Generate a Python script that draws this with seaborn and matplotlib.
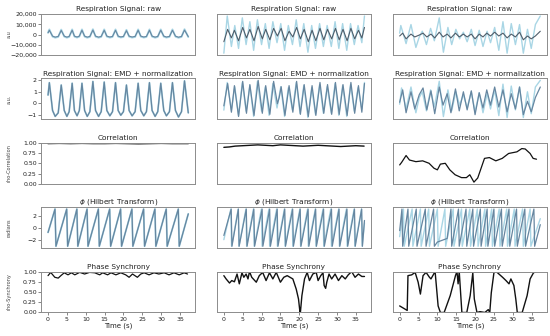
import matplotlib
matplotlib.use("Agg")
import matplotlib.pyplot as plt
from matplotlib.ticker import StrMethodFormatter
import seaborn as sns

# ── colours ───────────────────────────────────────────────────────────────────
LIGHT = "#a9d6e5"
DARK = "#6686a0"
RAW_DARK = "#4f5d6a"
BLACK = "#111111"

# ── column 1 ──────────────────────────────────────────────────────────────────
c1_raw_light = [(0, 2000), (0.35, 5000), (1.2, -2000), (1.9, -3000), (2.7, -2300),
                (3.5, 4800), (4.3, -2000), (5.0, -3000), (5.6, -2300), (6.4, 5000),
                (7.0, -2000), (7.7, -2900), (8.3, -2000), (9.0, 5000), (9.7, -2000),
                (10.4, -3000), (11.1, -2300), (11.9, 5200), (12.6, -2000), (13.4, -3000),
                (14.1, -2300), (14.9, 5000), (15.6, -2000), (16.4, -2900), (17.1, -2300),
                (17.9, 5000), (18.6, -2000), (19.3, -2800), (20.0, -2300), (20.8, 4600),
                (21.5, -2000), (22.3, -2900), (23.1, -2300), (23.9, 5000), (24.6, -2000),
                (25.4, -2900), (26.1, -2300), (26.9, 5000), (27.6, -2000), (28.4, -3000),
                (29.1, -2300), (29.9, 5000), (30.7, -2000), (31.4, -2900), (32.2, -2300),
                (33.0, 5000), (33.8, -2000), (34.6, -3100), (35.4, -2300), (36.2, 5200),
                (37.2, -2400)]
c1_raw_dark = [(0, 1600), (0.35, 4200), (1.2, -1500), (1.9, -2500), (2.7, -1800),
               (3.5, 4000), (4.3, -1500), (5.0, -2500), (5.6, -1800), (6.4, 4200),
               (7.0, -1500), (7.7, -2400), (8.3, -1500), (9.0, 4200), (9.7, -1500),
               (10.4, -2500), (11.1, -1800), (11.9, 4400), (12.6, -1500), (13.4, -2500),
               (14.1, -1800), (14.9, 4200), (15.6, -1500), (16.4, -2400), (17.1, -1800),
               (17.9, 4200), (18.6, -1500), (19.3, -2300), (20.0, -1800), (20.8, 3800),
               (21.5, -1500), (22.3, -2400), (23.1, -1800), (23.9, 4200), (24.6, -1500),
               (25.4, -2400), (26.1, -1800), (26.9, 4200), (27.6, -1500), (28.4, -2500),
               (29.1, -1800), (29.9, 4200), (30.7, -1500), (31.4, -2400), (32.2, -1800),
               (33.0, 4200), (33.8, -1500), (34.6, -2600), (35.4, -1800), (36.2, 4400),
               (37.2, -2000)]
c1_emd = [(0, 0.7), (0.35, 1.75), (1.2, -0.6), (1.9, -1.1), (2.7, -0.8), (3.5, 1.55),
          (4.3, -0.6), (5.0, -1.1), (5.6, -0.7), (6.4, 1.7), (7.0, -0.6), (7.7, -1.05),
          (8.3, -0.6), (9.0, 1.7), (9.7, -0.6), (10.4, -1.1), (11.1, -0.7), (11.9, 1.85),
          (12.6, -0.6), (13.4, -1.1), (14.1, -0.7), (14.9, 1.8), (15.6, -0.6), (16.4, -1.05),
          (17.1, -0.7), (17.9, 1.75), (18.6, -0.6), (19.3, -1.0), (20.0, -0.7), (20.8, 1.55),
          (21.5, -0.6), (22.3, -1.05), (23.1, -0.7), (23.9, 1.7), (24.6, -0.6), (25.4, -1.05),
          (26.1, -0.7), (26.9, 1.75), (27.6, -0.6), (28.4, -1.1), (29.1, -0.7), (29.9, 1.7),
          (30.7, -0.6), (31.4, -1.05), (32.2, -0.7), (33.0, 1.75), (33.8, -0.6), (34.6, -1.15),
          (35.4, -0.7), (36.2, 1.9), (37.2, -0.8)]
c1_corr = [(0, 0.99), (3, 0.995), (6, 0.99), (9, 0.995), (12, 0.99), (15, 0.99),
           (18, 0.995), (21, 0.99), (24, 0.985), (27, 0.99), (30, 0.995), (33, 0.99),
           (36, 0.99), (37.2, 0.99)]
c1_phase = [(0, -0.8), (1.85, 3.1), (2.1, -3.1), (4.95, 3.1), (5.2, -3.1), (7.65, 3.1),
            (7.9, -3.1), (10.35, 3.1), (10.6, -3.1), (13.35, 3.1), (13.6, -3.1), (16.35, 3.1),
            (16.6, -3.1), (19.25, 3.1), (19.5, -3.1), (22.25, 3.1), (22.5, -3.1), (25.35, 3.1),
            (25.6, -3.1), (28.35, 3.1), (28.6, -3.1), (31.35, 3.1), (31.6, -3.1), (34.55, 3.1),
            (34.8, -3.1), (37.2, 2.3)]
c1_sync = [(0, 0.9), (0.7, 0.98), (1.8, 0.86), (2.7, 0.84), (3.4, 0.9), (4.3, 0.97),
           (5.3, 0.92), (6.2, 0.97), (7.1, 0.92), (8.4, 0.98), (9.7, 0.94), (11, 0.98),
           (12.4, 0.97), (13.7, 0.92), (14.5, 0.97), (15.8, 0.92), (16.7, 0.97), (18, 0.92),
           (19.3, 0.97), (20.6, 0.92), (21.5, 0.86), (22.4, 0.94), (23.7, 0.86), (24.6, 0.94),
           (25.5, 0.97), (26.8, 0.92), (28.1, 0.97), (29.4, 0.94), (30.8, 0.97), (32.1, 0.92),
           (33.4, 0.97), (34.8, 0.92), (36.1, 0.97), (37.0, 0.94)]

# ── column 2 ──────────────────────────────────────────────────────────────────
c2_raw_light = [(0, -0.95), (0.9, 1.0), (2.0, -0.6), (2.9, 0.5), (3.9, -0.7), (4.9, 0.9),
                (5.9, -0.5), (6.9, 0.7), (7.9, -0.8), (8.9, 0.8), (10.0, -0.5), (11.0, 0.6),
                (12.0, -0.7), (13.0, 0.7), (14.1, -0.4), (15.1, 0.6), (16.1, -0.8), (17.1, 0.5),
                (18.2, -0.5), (19.2, 0.8), (20.2, -0.6), (21.2, 0.6), (22.3, -0.9), (23.3, 0.5),
                (24.3, -0.7), (25.4, 0.6), (26.4, -0.6), (27.4, 0.5), (28.5, -0.6), (29.5, 0.7),
                (30.5, -0.7), (31.5, 0.6), (32.6, -0.8), (33.6, 0.6), (34.6, -0.5), (35.6, 0.5),
                (36.6, -0.4), (37.3, 1.0)]
c2_raw_dark = [(0, -0.35), (1.0, 0.3), (2.0, -0.15), (2.8, 0.25), (3.9, -0.3), (5.0, 0.4),
               (6.0, -0.15), (6.9, 0.3), (8.0, -0.3), (9.1, 0.45), (10.2, -0.2), (11.1, 0.3),
               (12.2, -0.25), (13.2, 0.35), (14.2, -0.05), (15.2, 0.35), (16.2, -0.3), (17.3, 0.2),
               (18.3, -0.1), (19.3, 0.4), (20.3, -0.2), (21.3, 0.3), (22.4, -0.35), (23.4, 0.25),
               (24.4, -0.3), (25.5, 0.35), (26.5, -0.25), (27.5, 0.3), (28.6, -0.2), (29.6, 0.35),
               (30.6, -0.25), (31.6, 0.3), (32.7, -0.3), (33.7, 0.35), (34.7, -0.2), (35.7, 0.25),
               (36.6, -0.15), (37.3, 0.4)]
c2_emd_light = [(0, -1.0), (0.9, 1.6), (2.0, -1.0), (2.9, 1.2), (3.9, -1.5), (4.9, 1.6),
                (5.9, -1.1), (6.9, 1.3), (7.9, -1.6), (8.9, 1.7), (10.0, -1.1), (11.0, 1.2),
                (12.0, -1.5), (13.0, 1.5), (14.1, -0.8), (15.1, 1.2), (16.1, -1.6), (17.1, 1.1),
                (18.2, -1.0), (19.2, 1.6), (20.2, -1.3), (21.2, 1.3), (22.3, -1.7), (23.3, 1.1),
                (24.3, -1.4), (25.4, 1.4), (26.4, -1.3), (27.4, 1.2), (28.5, -1.3), (29.5, 1.5),
                (30.5, -1.5), (31.5, 1.3), (32.6, -1.6), (33.6, 1.4), (34.6, -1.1), (35.6, 1.1),
                (36.6, -0.9), (37.3, 1.6)]
c2_emd_dark = [(0, -0.6), (1.0, 1.5), (2.0, -1.2), (2.8, 1.3), (3.9, -1.6), (5.0, 1.7),
               (6.0, -1.3), (6.9, 1.4), (8.0, -1.5), (9.1, 1.8), (10.2, -1.3), (11.1, 1.3),
               (12.2, -1.4), (13.2, 1.7), (14.2, -0.4), (14.7, 0.2), (15.2, 1.2), (16.2, -1.5),
               (17.3, 1.3), (18.3, -1.2), (19.3, 1.7), (20.3, -1.4), (21.3, 1.4), (22.4, -1.6),
               (23.4, 1.3), (24.4, -1.5), (25.5, 1.6), (26.5, -1.3), (27.5, 1.4), (28.6, -1.4),
               (29.6, 1.6), (30.6, -1.4), (31.6, 1.4), (32.7, -1.5), (33.7, 1.6), (34.7, -1.3),
               (35.7, 1.3), (36.6, -1.2), (37.3, 1.5)]
c2_corr = [(0, 0.89), (1.5, 0.9), (3, 0.92), (5, 0.93), (7, 0.94), (9, 0.95), (11, 0.94),
           (13, 0.93), (15, 0.95), (17, 0.94), (19, 0.93), (21, 0.92), (23, 0.93), (25, 0.94),
           (27, 0.93), (29, 0.92), (31, 0.91), (33, 0.92), (35, 0.93), (37.2, 0.92)]
c2_phase_light = [(0, -2.0), (1.85, 3.1), (2.05, -3.1), (3.8, 3.1), (4.0, -3.1), (5.85, 3.1),
                  (6.05, -3.1), (7.85, 3.1), (8.05, -3.1), (9.95, 3.1), (10.15, -3.1),
                  (11.95, 3.1), (12.15, -3.1), (14.0, 3.1), (14.2, -3.1), (16.05, 3.1),
                  (16.25, -3.1), (18.1, 3.1), (18.3, -3.1), (20.15, 3.1), (20.35, -3.1),
                  (22.2, 3.1), (22.4, -3.1), (24.25, 3.1), (24.45, -3.1), (26.3, 3.1),
                  (26.5, -3.1), (28.35, 3.1), (28.55, -3.1), (30.45, 3.1), (30.65, -3.1),
                  (32.5, 3.1), (32.7, -3.1), (34.55, 3.1), (34.75, -3.1), (36.5, 3.1),
                  (36.7, -3.1), (37.3, 0.8)]
c2_phase_dark = [(0, -1.3), (1.95, 3.1), (2.15, -3.1), (3.85, 3.1), (4.05, -3.1), (5.95, 3.1),
                 (6.15, -3.1), (7.95, 3.1), (8.15, -3.1), (10.15, 3.1), (10.35, -3.1),
                 (12.15, 3.1), (12.35, -3.1), (14.15, 3.1), (14.35, -3.1), (16.15, 3.1),
                 (16.35, -3.1), (18.25, 3.1), (18.45, -3.1), (20.25, 3.1), (20.45, -3.1),
                 (22.35, 3.1), (22.55, -3.1), (24.35, 3.1), (24.55, -3.1), (26.45, 3.1),
                 (26.65, -3.1), (28.55, 3.1), (28.75, -3.1), (30.55, 3.1), (30.75, -3.1),
                 (32.65, 3.1), (32.85, -3.1), (34.65, 3.1), (34.85, -3.1), (36.55, 3.1),
                 (36.75, -3.1), (37.3, 1.2)]
c2_sync = [(0, 0.9), (0.6, 0.82), (1.5, 0.72), (2.1, 0.78), (2.8, 0.75), (3.5, 0.94),
           (4.1, 0.7), (4.8, 0.97), (5.3, 0.86), (5.9, 0.94), (6.4, 0.82), (6.8, 1.0),
           (7.4, 0.86), (8.6, 0.74), (9.4, 0.9), (10.3, 0.98), (11.2, 0.78), (12.1, 0.97),
           (13.0, 0.82), (13.9, 0.98), (15.0, 0.74), (15.9, 0.86), (16.8, 0.9), (18.3, 0.82),
           (19.2, 0.57), (19.8, 0.33), (20.2, 0.0), (20.3, 0.0), (20.7, 0.41), (21.4, 0.82),
           (22.1, 0.98), (22.7, 0.78), (23.6, 0.94), (24.5, 0.98), (25.0, 0.78), (25.7, 0.9),
           (26.3, 0.97), (26.6, 0.66), (27.0, 0.59), (27.3, 0.74), (27.9, 0.94), (28.6, 0.82),
           (29.5, 0.94), (30.4, 0.78), (31.3, 0.9), (32.2, 0.82), (33.0, 0.92), (33.9, 1.0),
           (34.8, 0.86), (35.7, 0.94), (36.6, 0.88), (37.3, 0.88)]

# ── column 3 ──────────────────────────────────────────────────────────────────
c3_raw_light = [(0, 0.1), (0.3, 0.5), (1.7, -0.45), (3.0, 0.55), (4.3, -0.65), (5.2, -0.1),
                (6.0, 0.2), (7.1, -0.5), (8.2, 0.35), (9.2, -0.3), (10.5, 0.9), (11.6, -0.9),
                (12.8, 0.4), (13.8, -0.5), (14.9, 0.3), (15.9, -0.2), (16.9, 0.15), (17.9, -0.35),
                (19.0, 0.3), (20.0, -0.55), (21.1, 0.25), (22.1, -0.6), (23.2, 0.2), (24.1, -0.4),
                (25.2, 0.4), (26.3, -0.8), (27.4, 0.7), (28.5, -0.95), (29.6, 0.6), (30.7, -0.5),
                (31.8, 0.55), (32.8, -0.95), (33.9, 0.3), (34.9, -0.7), (36.0, 0.55), (37.3, 1.0)]
c3_raw_dark = [(0, -0.05), (0.8, 0.1), (1.7, -0.2), (3.0, 0.05), (4.0, -0.1), (5.2, 0.0),
               (6.2, 0.1), (7.2, -0.1), (8.3, 0.05), (9.3, -0.15), (10.5, 0.15), (11.5, -0.1),
               (12.6, 0.05), (13.6, -0.15), (14.8, 0.1), (15.8, -0.1), (16.9, 0.05), (17.9, -0.1),
               (19.0, 0.05), (20.0, -0.2), (21.1, 0.05), (22.1, -0.1), (23.1, 0.1), (24.1, -0.05),
               (25.2, 0.15), (26.3, -0.05), (27.4, 0.1), (28.5, -0.15), (29.6, 0.05), (30.7, -0.1),
               (31.8, 0.15), (32.8, -0.25), (33.9, -0.05), (34.9, -0.2), (36.0, -0.05), (37.3, 0.2)]
c3_emd_light = [(0, -0.5), (0.5, 1.2), (1.7, -1.0), (3.0, 1.3), (4.3, -1.4), (5.2, 0.2),
                (6.0, 0.8), (7.1, -1.2), (8.2, 1.0), (9.2, -0.8), (10.5, 1.9), (11.6, -1.8),
                (12.8, 1.0), (13.8, -1.2), (14.9, 0.8), (15.9, -0.6), (16.9, 0.5), (17.9, -0.9),
                (19.0, 0.8), (20.0, -1.3), (21.1, 0.7), (22.1, -1.4), (23.2, 0.6), (24.1, -1.0),
                (25.2, 1.0), (26.3, -1.7), (27.4, 1.6), (28.5, -1.9), (29.6, 1.4), (30.7, -1.1),
                (31.8, 1.3), (32.8, -1.9), (33.9, 0.8), (34.9, -1.5), (36.0, 1.3), (37.3, 2.0)]
c3_emd_dark = [(0, -0.3), (0.8, 1.0), (1.7, -1.4), (3.0, 0.8), (4.0, -1.0), (5.2, 0.5),
               (6.2, 1.2), (7.2, -1.1), (8.3, 0.9), (9.3, -1.5), (10.5, 1.3), (11.5, -0.6),
               (12.6, 0.6), (13.6, -1.4), (14.8, 1.1), (15.8, -1.2), (16.9, 0.8), (17.9, -1.1),
               (19.0, 0.9), (20.0, -1.6), (21.1, 0.7), (22.1, -0.9), (23.1, 1.0), (24.1, -0.6),
               (25.2, 1.3), (26.3, -0.8), (27.4, 1.0), (28.5, -1.3), (29.6, 0.6), (30.7, -1.0),
               (31.8, 1.3), (32.8, -1.6), (33.9, -0.2), (34.9, -1.3), (36.0, 0.2), (37.3, 1.3)]
c3_corr = [(0, 0.46), (0.5, 0.52), (1.7, 0.69), (2.6, 0.58), (4.3, 0.54), (6.1, 0.56),
           (7.8, 0.5), (9.1, 0.38), (10.0, 0.34), (10.8, 0.48), (12.1, 0.5), (13.3, 0.34),
           (14.7, 0.22), (16.4, 0.15), (17.7, 0.15), (18.6, 0.22), (19.7, 0.04), (20.7, 0.14),
           (22.5, 0.62), (23.8, 0.64), (25.5, 0.56), (27.2, 0.62), (28.9, 0.74), (31.1, 0.78),
           (32.4, 0.86), (33.3, 0.85), (34.6, 0.74), (35.4, 0.62), (36.3, 0.6)]
c3_phase_light = [(0, -1.5), (1.0, 3.1), (1.2, -3.1), (3.3, 3.1), (3.5, -3.1), (5.5, 3.1),
                  (5.7, -3.1), (7.7, 3.1), (7.9, -3.1), (10.0, 3.1), (10.2, -3.1), (12.0, 3.1),
                  (12.2, -3.1), (14.2, 3.1), (14.4, -3.1), (16.4, 3.1), (16.6, -3.1), (18.6, 3.1),
                  (18.8, -3.1), (20.6, 3.1), (20.8, -3.1), (22.6, 3.1), (22.8, -3.1), (24.4, 3.1),
                  (24.6, -3.1), (26.4, 3.1), (26.6, -3.1), (28.4, 3.1), (28.6, -3.1), (30.4, 3.1),
                  (30.6, -3.1), (32.6, 3.1), (32.8, -3.1), (34.6, 3.1), (34.8, -3.1), (37.3, 1.5)]
c3_phase_dark = [(0, -0.5), (0.6, 3.1), (0.8, -3.1), (2.2, 3.1), (2.4, -3.1), (4.4, 3.1),
                 (4.6, -3.1), (6.8, 3.1), (7.0, -3.1), (9.0, 3.1), (9.2, -3.1), (10.0, -2.4),
                 (12.6, -1.8), (13.6, 3.1), (13.8, -3.1), (15.6, 3.1), (15.8, -3.1), (17.6, 3.1),
                 (17.8, -3.1), (19.4, 3.1), (19.6, -3.1), (21.4, 3.1), (21.6, -3.1), (23.2, 3.1),
                 (23.4, -3.1), (25.0, 3.1), (25.2, -3.1), (27.0, 3.1), (27.2, -3.1), (29.0, 3.1),
                 (29.2, -3.1), (31.0, 3.1), (31.2, -3.1), (33.2, 3.1), (33.4, -3.1), (35.6, 3.1),
                 (35.8, -3.1), (37.3, 0.5)]
c3_sync = [(0, 0.16), (1.1, 0.1), (2.0, 0.05), (2.2, 0.9), (3.2, 0.92), (4.1, 0.98),
           (4.9, 0.74), (5.5, 0.45), (6.2, 0.9), (7.0, 0.98), (7.9, 0.86), (8.3, 0.82),
           (9.4, 1.0), (10.2, 0.16), (10.8, 0.0), (11.8, 0.0), (13.4, 0.41), (14.8, 0.9),
           (15.2, 1.0), (15.5, 0.7), (15.8, 1.0), (16.5, 0.0), (17.8, 0.0), (18.7, 0.41),
           (19.4, 0.97), (19.8, 0.33), (20.5, 0.0), (21.3, 0.02), (22.6, 0.0), (23.5, 0.07),
           (23.9, 0.0), (24.3, 0.48), (25.0, 0.97), (25.6, 1.0), (27.3, 0.86), (28.2, 0.78),
           (29.0, 0.7), (29.5, 0.82), (30.3, 0.66), (30.8, 0.33), (31.2, 0.0), (32.5, 0.0),
           (33.8, 0.41), (34.6, 0.82), (35.5, 0.97), (36.3, 1.0)]

TITLES = ["Respiration Signal: raw", "Respiration Signal: EMD + normalization",
          "Correlation", r"$\phi$ (Hilbert Transform)", "Phase Synchrony"]
YLABELS = ["a.u", "a.u.", "rho-Correlation", "radians", "rho-Synchrony"]
X_TICKS = [0, 5, 10, 15, 20, 25, 30, 35]


def draw(ax, pts, color, lw):
    t = [p[0] for p in pts]
    v = [p[1] for p in pts]
    sns.lineplot(x=t, y=v, ax=ax, color=color, lw=lw, sort=False, estimator=None)


sns.set_style("ticks", {"axes.edgecolor": "#8c8c8c"})
plt.rcParams.update({
    "axes.linewidth": 0.7,
    "xtick.major.size": 2, "ytick.major.size": 2,
    "xtick.major.width": 0.5, "ytick.major.width": 0.5,
    "xtick.major.pad": 1.2, "ytick.major.pad": 1.2,
    "xtick.labelsize": 4.5, "ytick.labelsize": 4.5,
    "xtick.color": "#555555", "ytick.color": "#555555",
    "xtick.labelcolor": "#222222", "ytick.labelcolor": "#222222",
})

fig, axes = plt.subplots(5, 3, figsize=(5.5, 3.36), dpi=100)
fig.subplots_adjust(left=0.075, right=0.994, top=0.958, bottom=0.07,
                    wspace=0.143, hspace=0.573)

panels = [
    [[(c1_raw_light, LIGHT, 1.4), (c1_raw_dark, DARK, 0.8)],
     [(c2_raw_light, LIGHT, 1.0), (c2_raw_dark, RAW_DARK, 0.8)],
     [(c3_raw_light, LIGHT, 1.0), (c3_raw_dark, RAW_DARK, 0.8)]],
    [[(c1_emd, LIGHT, 1.3), (c1_emd, DARK, 0.9)],
     [(c2_emd_light, LIGHT, 1.0), (c2_emd_dark, DARK, 0.9)],
     [(c3_emd_light, LIGHT, 1.0), (c3_emd_dark, DARK, 0.9)]],
    [[(c1_corr, BLACK, 1.5)], [(c2_corr, BLACK, 1.0)], [(c3_corr, BLACK, 0.9)]],
    [[(c1_phase, LIGHT, 1.3), (c1_phase, DARK, 0.9)],
     [(c2_phase_light, LIGHT, 1.0), (c2_phase_dark, DARK, 0.9)],
     [(c3_phase_light, LIGHT, 1.0), (c3_phase_dark, DARK, 0.9)]],
    [[(c1_sync, BLACK, 0.9)], [(c2_sync, BLACK, 1.0)], [(c3_sync, BLACK, 1.0)]],
]

for r in range(5):
    for c in range(3):
        ax = axes[r, c]
        for pts, color, lw in panels[r][c]:
            draw(ax, pts, color, lw)
        ax.set_xlim(-1.8, 39.0)
        ax.set_title(TITLES[r], fontsize=5.3, pad=2, color="#222222")
        if r in (2, 4):
            ax.set_ylim(0, 1)
            ax.set_yticks([0, 0.25, 0.5, 0.75, 1.0])
            ax.yaxis.set_major_formatter(StrMethodFormatter("{x:.2f}"))
        if r == 0 and c == 0:
            ax.set_ylim(-20000, 20000)
            ax.set_yticks([-20000, -10000, 0, 10000, 20000])
            ax.yaxis.set_major_formatter(StrMethodFormatter("{x:,.0f}"))
        if r == 1 and c == 0:
            ax.set_ylim(-1.35, 2.1)
            ax.set_yticks([-1, 0, 1, 2])
        if r == 3 and c == 0:
            ax.set_yticks([-2, 0, 2])
        if r == 4:
            ax.set_xticks(X_TICKS)
            ax.set_xlabel("Time (s)", fontsize=5, labelpad=0.5, color="#222222")
        else:
            ax.set_xticks([])
        if c == 0:
            ax.set_ylabel(YLABELS[r], fontsize=3.6, color="#444444")
            ax.yaxis.set_label_coords(-0.195, 0.5)
        else:
            ax.set_yticks([])

fig.savefig("out.png", dpi=100)
